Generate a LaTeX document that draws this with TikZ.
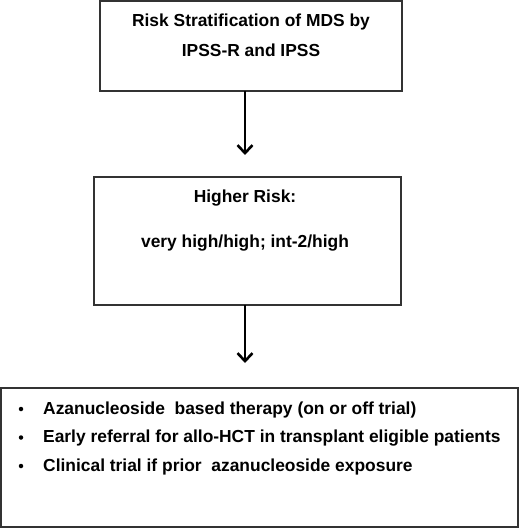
\documentclass[tikz,border=0pt]{standalone}
\usepackage{fontspec}
\setmainfont{Liberation Sans}
\usetikzlibrary{arrows.meta}
\begin{document}
\begin{tikzpicture}[x=1pt,y=-1pt,
  boxst/.style={draw=black!80, line width=2.6pt, rectangle, inner sep=0pt},
  txt/.style={font=\fontsize{17.4}{20}\selectfont\bfseries, inner sep=0pt},
  dot/.style={circle, fill=black, inner sep=0pt, minimum size=4.5pt},
  arr/.style={line width=2.6pt, -{Straight Barb[length=8pt,width=15pt,line width=2.6pt]}}]
\useasboundingbox (0,0) rectangle (520,529);
\node[boxst, minimum width=302pt, minimum height=90pt] (b1) at (251,46) {};
\node[boxst, minimum width=307pt, minimum height=128pt] (b2) at (247.5,241) {};
\node[boxst, minimum width=517pt, minimum height=139pt] (b3) at (259.5,457.5) {};
\node[txt] (t1) at (251,22) {Risk Stratification of MDS by};
\node[txt] (t2) at (251,50) {IPSS-R and IPSS};
\node[txt] (t3) at (245,198) {Higher Risk:};
\node[txt] (t4) at (245,243) {very high/high; int-2/high};
\node[txt, anchor=west] (l1) at (43,410) {Azanucleoside\ \ based therapy (on or off trial)};
\node[txt, anchor=west] (l2) at (43,438.5) {Early referral for allo-HCT in transplant eligible patients};
\node[txt, anchor=west] (l3) at (43,467) {Clinical trial if prior\ \ azanucleoside exposure};
\node[dot] (d1) at (21,409) {};
\node[dot] (d2) at (21,437.5) {};
\node[dot] (d3) at (21,466) {};
\coordinate (a1) at (245,155);
\coordinate (a2) at (245,363);
\draw[arr] (245,91) -- (a1);
\draw[arr] (245,305) -- (a2);
\end{tikzpicture}
\end{document}
